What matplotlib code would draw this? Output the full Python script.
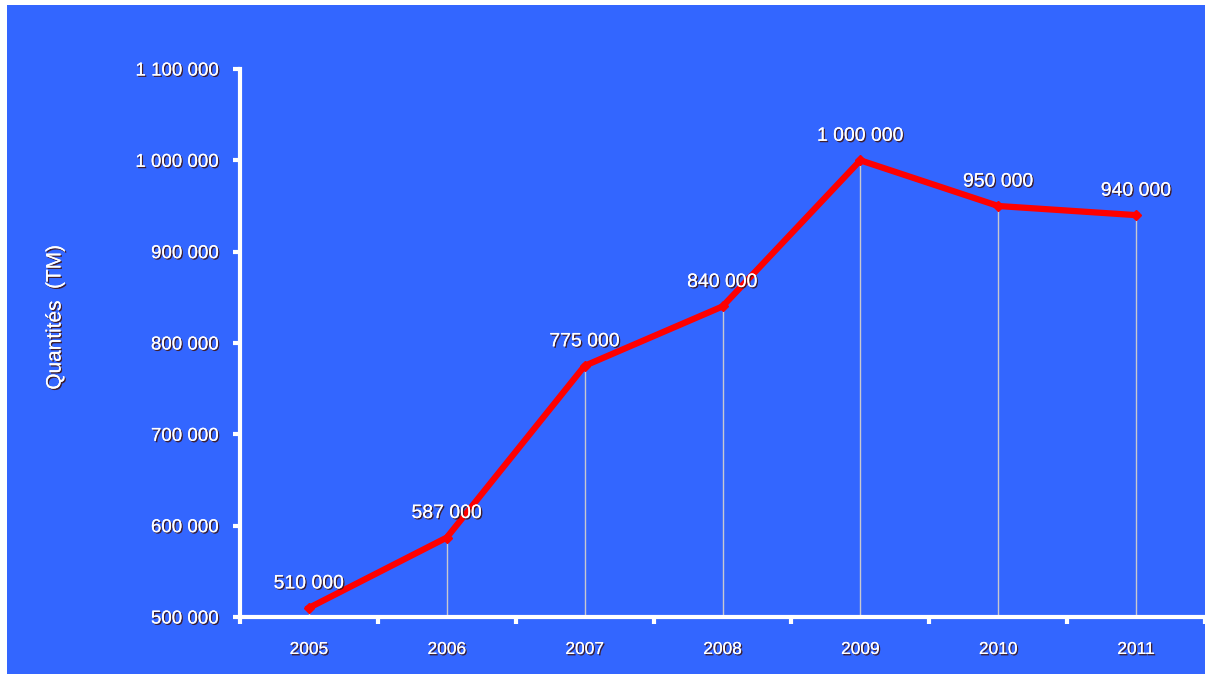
import matplotlib
matplotlib.use("Agg")
import matplotlib.pyplot as plt
import matplotlib.patheffects as pe
from matplotlib.patches import Rectangle
import numpy as np

years = ["2005", "2006", "2007", "2008", "2009", "2010", "2011"]
values = [510000, 587000, 775000, 840000, 1000000, 950000, 940000]
value_labels = ["510 000", "587 000", "775 000", "840 000", "1 000 000", "950 000", "940 000"]
yticks = [500000, 600000, 700000, 800000, 900000, 1000000, 1100000]
ytick_labels = ["500 000", "600 000", "700 000", "800 000", "900 000", "1 000 000", "1 100 000"]

BLUE = "#3366FF"
W, H = 1205, 674
fig = plt.figure(figsize=(W/100, H/100), dpi=100, facecolor="white")
fig.patches.append(Rectangle((7/W, 0), 1 - 7/W, 1 - 5/H, transform=fig.transFigure,
                             facecolor=BLUE, edgecolor="none", zorder=-10))

ax = fig.add_axes([240/W, 1 - 617/H, 1 - 240/W, (617 - 69)/H])
ax.patch.set_alpha(0)

shadow = [pe.withSimplePatchShadow(offset=(1, -1), shadow_rgbFace="#401818", alpha=0.9), pe.Normal()]
FAM = ["Liberation Sans", "DejaVu Sans"]

x = np.arange(len(years))
ax.vlines(x, 500000, values, colors="#c8c8d0", linewidth=1, zorder=2)
ax.plot(x, values, color="#ff0000", linewidth=4.5, marker="D", markersize=5,
        solid_joinstyle="round", zorder=3, clip_on=False)

for xi, v, lab in zip(x, values, value_labels):
    ax.annotate(lab, (xi, v), xytext=(0, 24), textcoords="offset pixels",
                ha="center", va="center", fontsize=14, color="white", family=FAM,
                path_effects=shadow)

ax.set_xlim(-0.5, len(years) - 0.5)
ax.set_ylim(500000, 1100000)
ax.set_yticks(yticks)
ax.set_yticklabels(ytick_labels)
ax.set_xticks(x)
ax.set_xticklabels(years)
ax.set_xticks(np.arange(-0.5, len(years)), minor=True)

for lab in ax.get_yticklabels():
    lab.set_fontfamily(FAM)
    lab.set_color("white")
    lab.set_fontsize(13.5)
    lab.set_path_effects(shadow)
for lab in ax.get_xticklabels():
    lab.set_fontfamily(FAM)
    lab.set_color("white")
    lab.set_fontsize(12.5)
    lab.set_path_effects(shadow)

ax.tick_params(axis="y", length=5, width=3, color="white", pad=10, direction="out")
ax.tick_params(axis="x", which="major", length=0, pad=18)
ax.tick_params(axis="x", which="minor", length=5, width=3, color="white", direction="out")

for s in ["top", "right"]:
    ax.spines[s].set_visible(False)
for s in ["left", "bottom"]:
    ax.spines[s].set_color("white")
    ax.spines[s].set_linewidth(3)

fig.text(55/W, 1 - 317/H, "Quantités  (TM)", rotation=90, ha="center", va="center",
         fontsize=15, color="white", family=FAM, path_effects=shadow)

fig.savefig("out.png", dpi=100, facecolor="white")
